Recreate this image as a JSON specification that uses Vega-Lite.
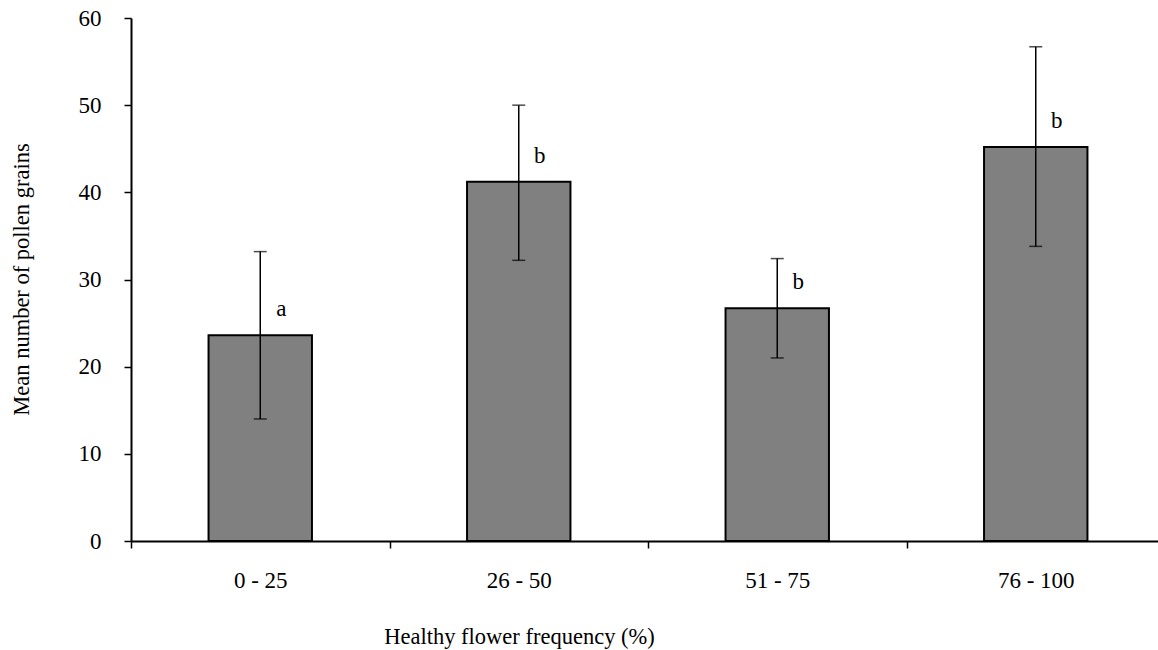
{
  "$schema": "https://vega.github.io/schema/vega-lite/v6.json",
  "width": 1027,
  "height": 523,
  "autosize": {"type": "none"},
  "padding": {"left": 131, "top": 18, "right": 0, "bottom": 109},
  "background": "white",
  "config": {
    "font": "Liberation Serif",
    "view": {"stroke": null},
    "axis": {
      "grid": false,
      "domainColor": "black",
      "tickColor": "black",
      "labelColor": "black",
      "titleColor": "black",
      "labelFont": "Liberation Serif",
      "titleFont": "Liberation Serif",
      "labelFontSize": 23,
      "titleFontSize": 22.5,
      "titleFontWeight": "normal",
      "domainWidth": 2,
      "tickWidth": 1.5,
      "tickSize": 7
    }
  },
  "data": {
    "values": [
      {"freq": "0 - 25", "mean": 23.6, "lo": 14.0, "hi": 33.2, "sig": "a"},
      {"freq": "26 - 50", "mean": 41.2, "lo": 32.2, "hi": 50.0, "sig": "b"},
      {"freq": "51 - 75", "mean": 26.7, "lo": 21.0, "hi": 32.4, "sig": "b"},
      {"freq": "76 - 100", "mean": 45.2, "lo": 33.8, "hi": 56.7, "sig": "b"}
    ]
  },
  "encoding": {
    "x": {
      "field": "freq",
      "type": "nominal",
      "sort": null,
      "scale": {"range": [0, 1034], "paddingInner": 0, "paddingOuter": 0},
      "axis": {
        "title": "Healthy flower frequency (%)",
        "labelAngle": 0,
        "tickBand": "extent",
        "labelPadding": 21,
        "titleX": 388,
        "titleY": 95,
        "titleAlign": "center",
        "titleBaseline": "middle",
        "titleAnchor": null
      }
    }
  },
  "layer": [
    {
      "mark": {"type": "bar", "width": {"band": 0.4}, "fill": "#808080", "stroke": "black", "strokeWidth": 2},
      "encoding": {
        "y": {
          "field": "mean",
          "type": "quantitative",
          "scale": {"domain": [0, 60]},
          "axis": {
            "title": "Mean number of pollen grains",
            "values": [0, 10, 20, 30, 40, 50, 60],
            "labelPadding": 23,
            "titleX": -110,
            "titleY": 261,
            "titleAngle": -90,
            "titleAlign": "center",
            "titleBaseline": "middle"
          }
        }
      }
    },
    {
      "mark": {"type": "rule", "strokeWidth": 1.5, "color": "black"},
      "encoding": {
        "y": {"field": "lo", "type": "quantitative"},
        "y2": {"field": "hi"}
      }
    },
    {
      "mark": {"type": "tick", "size": 13, "thickness": 1.5, "color": "black"},
      "encoding": {"y": {"field": "lo", "type": "quantitative"}}
    },
    {
      "mark": {"type": "tick", "size": 13, "thickness": 1.5, "color": "black"},
      "encoding": {"y": {"field": "hi", "type": "quantitative"}}
    },
    {
      "mark": {"type": "text", "dx": 21, "dy": -26, "fontSize": 23, "color": "black", "baseline": "middle", "align": "center"},
      "encoding": {
        "y": {"field": "mean", "type": "quantitative"},
        "text": {"field": "sig"}
      }
    }
  ]
}
